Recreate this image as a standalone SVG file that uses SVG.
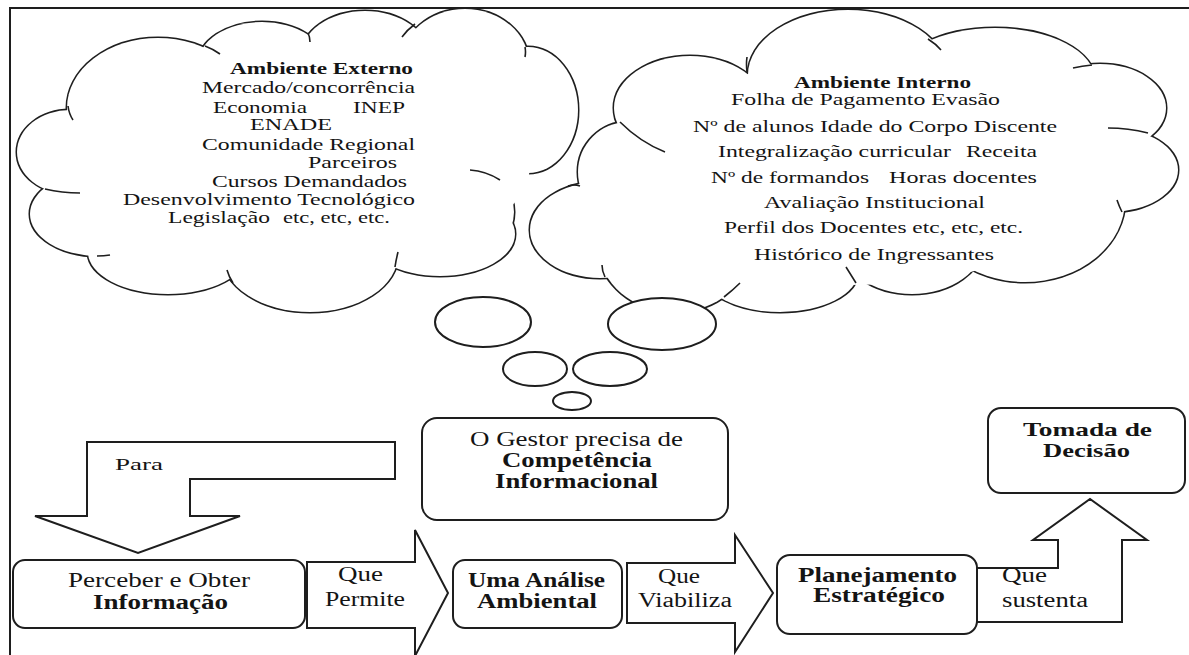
<svg xmlns="http://www.w3.org/2000/svg" xmlns:xlink="http://www.w3.org/1999/xlink" width="1189" height="655" viewBox="0 0 1189 655">
<style>
.ls{fill:none;stroke:#1e1e1e;stroke-width:3}
.lf{fill:#fff;stroke:none}
.tail{fill:none;stroke:#1e1e1e;stroke-width:1.6}
.bub{fill:#fff;stroke:#1e1e1e;stroke-width:2}
.box{fill:#fff;stroke:#1e1e1e;stroke-width:2}
.arr{fill:#fff;stroke:#1e1e1e;stroke-width:2;stroke-linejoin:miter}
text{font-family:"Liberation Serif","Times New Roman",serif;fill:#141414}
.c1{font-size:17px}
.c2{font-size:16px}
.b{font-weight:bold}
.t20{font-size:20px}
.t19{font-size:19px}
</style>
<defs>
<g id="extLobes">
<ellipse cx="70" cy="152" rx="53" ry="42"/>
<ellipse cx="98" cy="214" rx="68" ry="42"/>
<ellipse cx="168" cy="252" rx="80" ry="42"/>
<ellipse cx="310" cy="255" rx="88" ry="57"/>
<ellipse cx="440" cy="234" rx="75" ry="42"/>
<ellipse cx="472" cy="212" rx="42" ry="42"/>
<ellipse cx="528" cy="110" rx="50" ry="63"/>
<ellipse cx="465" cy="64" rx="64" ry="55"/>
<ellipse cx="365" cy="56" rx="64" ry="45"/>
<ellipse cx="262" cy="64" rx="64" ry="42"/>
<ellipse cx="158" cy="108" rx="91" ry="70"/>
</g>
<g id="intLobes">
<ellipse cx="690" cy="108" rx="76" ry="52"/>
<ellipse cx="848" cy="75" rx="100" ry="65"/>
<ellipse cx="995" cy="80" rx="100" ry="52"/>
<ellipse cx="1100" cy="108" rx="66" ry="44"/>
<ellipse cx="1110" cy="170" rx="68" ry="42"/>
<ellipse cx="1025" cy="200" rx="100" ry="82"/>
<ellipse cx="912" cy="242" rx="72" ry="52"/>
<ellipse cx="780" cy="272" rx="78" ry="40"/>
<ellipse cx="675" cy="248" rx="76" ry="64"/>
<ellipse cx="600" cy="230" rx="70" ry="48"/>
<ellipse cx="628" cy="172" rx="50" ry="50"/>
</g>
</defs>

<g id="frame">
<path d="M10,655 V8 H1189" fill="none" stroke="#1e1e1e" stroke-width="2"/>
</g>

<g id="cloud-ambiente-externo">
<use xlink:href="#extLobes" class="ls"/>
<use xlink:href="#extLobes" class="lf"/>
<ellipse class="lf" cx="300" cy="165" rx="230" ry="105"/>
<path class="tail" d="M68,106 Q69,114 73,120 M205,46 Q213,49 220,54 M308,33 Q310,37 310,42 M415,24 Q407,30 402,37 M525,47 Q526,52 525,57 M500,180 Q486,171 470,170 M395,267 Q396,260 398,252 M233,283 Q229,277 227,270 M97,256 Q104,256 110,255 M45,189 Q62,193 80,193"/>
<text class="c1 b" x="230" y="74" textLength="183" lengthAdjust="spacingAndGlyphs">Ambiente Externo</text>
<text class="c1" x="202" y="93" textLength="213" lengthAdjust="spacingAndGlyphs">Mercado/concorrência</text>
<text class="c1" x="213" y="113" textLength="94" lengthAdjust="spacingAndGlyphs">Economia</text>
<text class="c1" x="353" y="113" textLength="52" lengthAdjust="spacingAndGlyphs">INEP</text>
<text class="c1" x="250" y="130" textLength="82" lengthAdjust="spacingAndGlyphs">ENADE</text>
<text class="c1" x="202" y="150" textLength="213" lengthAdjust="spacingAndGlyphs">Comunidade Regional</text>
<text class="c1" x="308" y="168" textLength="89" lengthAdjust="spacingAndGlyphs">Parceiros</text>
<text class="c1" x="212" y="187" textLength="195" lengthAdjust="spacingAndGlyphs">Cursos Demandados</text>
<text class="c1" x="123" y="205" textLength="292" lengthAdjust="spacingAndGlyphs">Desenvolvimento Tecnológico</text>
<text class="c1" x="168" y="223" textLength="102" lengthAdjust="spacingAndGlyphs">Legislação</text>
<text class="c1" x="283" y="223" textLength="107" lengthAdjust="spacingAndGlyphs">etc, etc, etc.</text>
</g>

<g id="cloud-ambiente-interno">
<use xlink:href="#intLobes" class="ls"/>
<use xlink:href="#intLobes" class="lf"/>
<ellipse class="lf" cx="850" cy="175" rx="255" ry="110"/>
<path class="tail" d="M620,122 Q640,142 665,152 M747,57 Q746,64 747,72 M928,39 Q936,44 941,50 M1092,65 Q1082,66 1073,68 M1148,133 Q1128,128 1108,128 M1122,212 Q1119,206 1117,200 M856,283 Q851,275 846,267 M724,297 Q733,290 740,283 M605,277 Q602,271 602,265 M580,186 Q574,184 568,186"/>
<text class="c2 b" x="794" y="88" textLength="177" lengthAdjust="spacingAndGlyphs">Ambiente Interno</text>
<text class="c2" x="731" y="105" textLength="269" lengthAdjust="spacingAndGlyphs">Folha de Pagamento Evasão</text>
<text class="c2" x="693" y="132" textLength="364" lengthAdjust="spacingAndGlyphs">Nº de alunos Idade do Corpo Discente</text>
<text class="c2" x="718" y="157" textLength="233" lengthAdjust="spacingAndGlyphs">Integralização curricular</text>
<text class="c2" x="966" y="157" textLength="71" lengthAdjust="spacingAndGlyphs">Receita</text>
<text class="c2" x="711" y="183" textLength="158" lengthAdjust="spacingAndGlyphs">Nº de formandos</text>
<text class="c2" x="889" y="183" textLength="148" lengthAdjust="spacingAndGlyphs">Horas docentes</text>
<text class="c2" x="764" y="208" textLength="221" lengthAdjust="spacingAndGlyphs">Avaliação Institucional</text>
<text class="c2" x="724" y="233" textLength="299" lengthAdjust="spacingAndGlyphs">Perfil dos Docentes etc, etc, etc.</text>
<text class="c2" x="754" y="260" textLength="240" lengthAdjust="spacingAndGlyphs">Histórico de Ingressantes</text>
</g>

<g id="thought-bubbles">
<ellipse class="bub" cx="483" cy="322" rx="48" ry="25"/>
<ellipse class="bub" cx="662" cy="324" rx="54" ry="26"/>
<ellipse class="bub" cx="535" cy="369" rx="32" ry="17"/>
<ellipse class="bub" cx="610" cy="369" rx="37" ry="17"/>
<ellipse class="bub" cx="572" cy="401" rx="19" ry="9"/>
</g>

<g id="connectors">
<polygon class="arr" points="87,442 395,442 395,479 190,479 190,516 240,516 138,553 35,516 87,516"/>
<text x="115" y="470" textLength="48" lengthAdjust="spacingAndGlyphs" style="font-size:17px">Para</text>
<polygon class="arr" points="307,562 415,562 415,530 448,593 415,656 415,628 307,628"/>
<text class="t20" x="338" y="581" textLength="45" lengthAdjust="spacingAndGlyphs">Que</text>
<text class="t20" x="325" y="606" textLength="80" lengthAdjust="spacingAndGlyphs">Permite</text>
<polygon class="arr" points="627,563 735,563 735,535 773,593 735,652 735,623 627,623"/>
<text class="t20" x="658" y="583" textLength="42" lengthAdjust="spacingAndGlyphs">Que</text>
<text class="t20" x="638" y="607" textLength="94" lengthAdjust="spacingAndGlyphs">Viabiliza</text>
<polygon class="arr" points="970,568 1058,568 1058,540 1033,540 1090,499 1147,540 1122,540 1122,622 970,622"/>
<text class="t20" x="1002" y="582" textLength="45" lengthAdjust="spacingAndGlyphs">Que</text>
<text class="t20" x="1002" y="607" textLength="86" lengthAdjust="spacingAndGlyphs">sustenta</text>
</g>

<g id="node-gestor">
<rect class="box" x="422" y="418" width="306" height="102" rx="15"/>
<text class="t20" x="470" y="446" textLength="213" lengthAdjust="spacingAndGlyphs">O Gestor precisa de</text>
<text class="t20 b" x="502" y="467" textLength="150" lengthAdjust="spacingAndGlyphs">Competência</text>
<text class="t20 b" x="495" y="488" textLength="163" lengthAdjust="spacingAndGlyphs">Informacional</text>
</g>

<g id="node-perceber">
<rect class="box" x="13" y="560" width="292" height="68" rx="12"/>
<text class="t20" x="68" y="587" textLength="182" lengthAdjust="spacingAndGlyphs">Perceber e Obter</text>
<text class="t20 b" x="93" y="609" textLength="135" lengthAdjust="spacingAndGlyphs">Informação</text>
</g>

<g id="node-analise">
<rect class="box" x="453" y="560" width="169" height="68" rx="12"/>
<text class="t20 b" x="468" y="587" textLength="137" lengthAdjust="spacingAndGlyphs">Uma Análise</text>
<text class="t20 b" x="477" y="608" textLength="120" lengthAdjust="spacingAndGlyphs">Ambiental</text>
</g>

<g id="node-planejamento">
<rect class="box" x="777" y="555" width="200" height="79" rx="13"/>
<text class="t20 b" x="798" y="582" textLength="159" lengthAdjust="spacingAndGlyphs">Planejamento</text>
<text class="t20 b" x="813" y="602" textLength="132" lengthAdjust="spacingAndGlyphs">Estratégico</text>
</g>

<g id="node-decisao">
<rect class="box" x="988" y="408" width="197" height="85" rx="13"/>
<text class="t19 b" x="1023" y="436" textLength="129" lengthAdjust="spacingAndGlyphs">Tomada de</text>
<text class="t19 b" x="1043" y="457" textLength="87" lengthAdjust="spacingAndGlyphs">Decisão</text>
</g>
</svg>
